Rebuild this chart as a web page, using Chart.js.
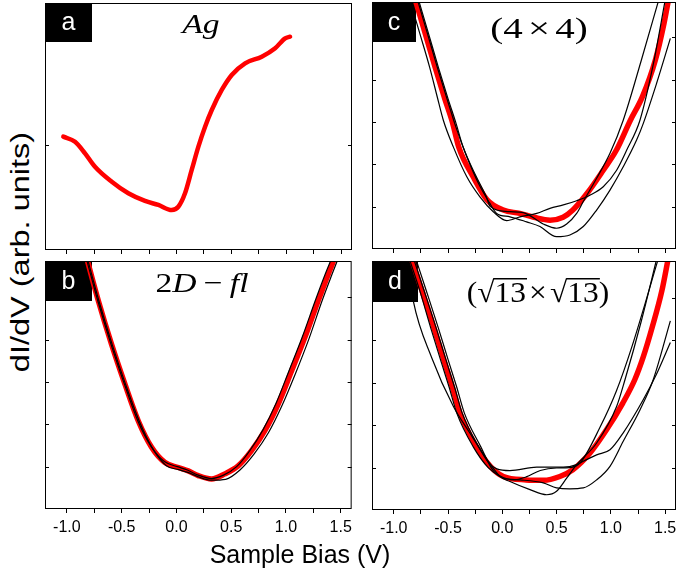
<!DOCTYPE html>
<html>
<head>
<meta charset="utf-8">
<script src="https://cdn.jsdelivr.net/npm/chart.js"></script>
<style>
  body { margin: 0; background: #fff; width: 677px; height: 578px; overflow: hidden; position: relative; font-family: "Liberation Sans", Arial, sans-serif; }
  canvas { position: absolute; }
  .pin { position: absolute; width: 0; height: 0; }
  .pin span { position: absolute; left: 0; top: 0; white-space: nowrap; font-size: 25px; line-height: 29px; color: #000; }
</style>
</head>
<body>
<canvas id="panelA" width="317" height="260" style="left:40px;top:0px"></canvas>
<canvas id="panelB" width="317" height="282" style="left:40px;top:258px"></canvas>
<canvas id="panelC" width="323" height="259" style="left:367px;top:0px"></canvas>
<canvas id="panelD" width="323" height="282" style="left:367px;top:258px"></canvas>

<div class="pin" style="left:20px;top:252px"><span style="transform: translate(-50%,-50%) rotate(-90deg) scaleX(1.3)">dI/dV (arb. units)</span></div>
<div class="pin" style="left:300px;top:554px"><span style="transform: translate(-50%,-50%)">Sample Bias (V)</span></div>

<script>
// tick values
const xTicks = [-1.0, -0.75, -0.5, -0.25, 0.0, 0.25, 0.5, 0.75, 1.0, 1.25, 1.5];
const yTicksA = [1];
const yTicks = [1, 2, 3, 4, 5];

// (a) Ag
const agCurve = [[-1.033,1.079],[-0.926,1.031],[-0.835,0.921],[-0.744,0.793],[-0.591,0.650],[-0.440,0.540],[-0.288,0.467],[-0.166,0.429],[-0.044,0.381],[0.016,0.412],[0.077,0.540],[0.138,0.762],[0.199,0.984],[0.260,1.174],[0.321,1.333],[0.412,1.524],[0.503,1.667],[0.625,1.778],[0.777,1.841],[0.899,1.921],[0.990,2.016],[1.035,2.031]];

// (b) 2D-fl
const bRed = [[-0.820,5.94],[-0.713,4.92],[-0.592,3.89],[-0.470,2.95],[-0.348,2.08],[-0.227,1.46],[-0.105,1.10],[0.017,0.98],[0.108,0.90],[0.199,0.79],[0.321,0.71],[0.442,0.83],[0.564,1.02],[0.686,1.38],[0.807,1.85],[0.929,2.48],[1.051,3.26],[1.172,4.05],[1.294,4.92],[1.385,5.54],[1.446,5.94]];
const bBlack1 = [[-0.815,5.94],[-0.708,4.92],[-0.587,3.89],[-0.465,2.95],[-0.340,2.08],[-0.215,1.42],[-0.095,1.03],[0.02,0.93],[0.11,0.86],[0.20,0.76],[0.32,0.68],[0.45,0.70],[0.58,0.92],[0.71,1.30],[0.84,1.80],[0.96,2.42],[1.09,3.22],[1.21,4.02],[1.33,4.92],[1.42,5.54],[1.48,5.94]];
const bBlack2 = [[-0.825,5.94],[-0.718,4.92],[-0.597,3.89],[-0.475,2.95],[-0.352,2.08],[-0.232,1.48],[-0.11,1.12],[0.01,1.0],[0.10,0.92],[0.20,0.80],[0.32,0.72],[0.43,0.80],[0.55,1.0],[0.67,1.38],[0.79,1.87],[0.91,2.50],[1.03,3.28],[1.15,4.07],[1.27,4.94],[1.36,5.56],[1.42,5.94]];

// (c) 4x4
const cRed = [[-0.80,5.87],[-0.71,5.09],[-0.62,4.30],[-0.53,3.55],[-0.46,3.00],[-0.40,2.40],[-0.27,1.71],[-0.14,1.16],[0.01,0.92],[0.16,0.84],[0.29,0.75],[0.44,0.68],[0.56,0.75],[0.65,0.92],[0.78,1.31],[0.93,1.86],[1.05,2.33],[1.18,3.04],[1.29,3.59],[1.41,4.46],[1.49,5.33],[1.53,5.87]];
const cBlack1 = [[-0.85,5.87],[-0.76,5.09],[-0.67,4.30],[-0.60,3.60],[-0.543,3.04],[-0.451,2.41],[-0.328,1.71],[-0.206,1.23],[-0.083,0.88],[0.040,0.67],[0.163,0.76],[0.317,0.84],[0.439,0.96],[0.562,1.04],[0.685,1.14],[0.807,1.27],[0.930,1.47],[1.053,1.86],[1.145,2.33],[1.268,3.04],[1.39,4.35],[1.50,5.87]];
const cBlack2 = [[-0.77,5.87],[-0.68,5.09],[-0.59,4.30],[-0.50,3.55],[-0.43,3.0],[-0.36,2.40],[-0.24,1.71],[-0.15,1.25],[-0.11,1.0],[0.071,0.88],[0.193,0.86],[0.377,0.59],[0.500,0.49],[0.593,0.59],[0.685,0.84],[0.746,1.12],[0.869,1.67],[0.992,2.26],[1.114,3.04],[1.28,4.45],[1.44,5.87]];
const cBlack3 = [[-0.78,5.87],[-0.69,5.09],[-0.60,4.30],[-0.51,3.55],[-0.43,2.90],[-0.33,2.20],[-0.22,1.55],[-0.12,1.10],[-0.052,0.84],[0.071,0.76],[0.224,0.64],[0.347,0.53],[0.500,0.29],[0.623,0.33],[0.746,0.53],[0.869,0.92],[0.992,1.39],[1.114,1.94],[1.237,2.57],[1.298,2.96],[1.42,3.90],[1.548,4.97]];

// (d) sqrt13 x sqrt13
const dRed = [[-0.84,5.95],[-0.74,5.17],[-0.63,4.30],[-0.54,3.55],[-0.46,2.90],[-0.39,2.29],[-0.24,1.50],[-0.11,1.03],[0.01,0.79],[0.22,0.71],[0.38,0.70],[0.53,0.79],[0.65,0.95],[0.81,1.35],[0.96,1.89],[1.11,2.52],[1.22,3.07],[1.30,3.62],[1.38,4.30],[1.47,5.17],[1.53,5.95]];
const dBlack1 = [[-0.88,5.95],[-0.82,4.93],[-0.65,3.59],[-0.45,2.44],[-0.30,1.82],[-0.14,1.19],[-0.02,0.79],[0.071,0.67],[0.255,0.48],[0.409,0.36],[0.50,0.44],[0.593,0.75],[0.685,1.07],[0.869,1.58],[1.053,2.44],[1.13,3.07],[1.28,4.45],[1.425,5.95]];
const dBlack2 = [[-0.82,5.95],[-0.72,5.17],[-0.61,4.30],[-0.52,3.55],[-0.44,2.90],[-0.37,2.29],[-0.22,1.50],[-0.12,1.10],[-0.05,0.97],[0.071,0.93],[0.317,1.01],[0.562,1.01],[0.685,1.07],[0.746,1.15],[0.869,1.30],[0.992,1.42],[1.114,1.82],[1.298,2.60],[1.42,3.20],[1.548,3.95]];
const dBlack3 = [[-0.86,5.95],[-0.76,5.17],[-0.66,4.30],[-0.57,3.55],[-0.49,2.90],[-0.42,2.29],[-0.27,1.50],[-0.13,1.00],[-0.02,0.80],[0.10,0.71],[0.22,0.78],[0.35,0.93],[0.50,0.99],[0.62,1.00],[0.72,1.12],[0.90,1.95],[1.05,2.80],[1.20,3.90],[1.44,5.95]];
const dBlack4 = [[-0.80,5.95],[-0.70,5.17],[-0.59,4.30],[-0.50,3.55],[-0.42,2.90],[-0.35,2.29],[-0.20,1.50],[-0.09,0.95],[0.0,0.76],[0.163,0.71],[0.377,0.64],[0.500,0.52],[0.623,0.50],[0.746,0.52],[0.869,0.71],[0.992,1.03],[1.114,1.62],[1.268,2.36],[1.39,3.07],[1.548,4.46]];

Chart.defaults.font.family = '"Liberation Sans", Arial, sans-serif';
Chart.defaults.color = '#000';

// frame, inside y ticks, letter box and title
const framePlugin = {
  id: 'frame',
  beforeDatasetsDraw(chart, args, o) {
    const ctx = chart.ctx, a = chart.chartArea;
    ctx.save();
    ctx.fillStyle = '#000';
    ctx.fillRect(a.left, a.top, o.boxW, o.boxH);
    ctx.fillStyle = '#fff';
    ctx.font = '25px "Liberation Sans"';
    ctx.textAlign = 'center';
    ctx.textBaseline = 'middle';
    ctx.fillText(o.letter, a.left + o.boxW / 2, a.top + o.boxH / 2 + 1);
    ctx.restore();
  },
  afterDatasetsDraw(chart, args, o) {
    const ctx = chart.ctx, a = chart.chartArea, y = chart.scales.y;
    ctx.save();
    ctx.strokeStyle = '#000';
    ctx.lineWidth = 1;
    ctx.strokeRect(a.left + 0.5, a.top + 0.5, a.width - 1, a.height - 1);
    ctx.beginPath();
    o.yTicks.forEach(v => {
      const py = Math.round(y.getPixelForValue(v)) + 0.5;
      ctx.moveTo(a.left, py); ctx.lineTo(a.left + 4, py);
      ctx.moveTo(a.right, py); ctx.lineTo(a.right - 4, py);
    });
    ctx.stroke();

    // title
    const t = o.title;
    ctx.translate(a.left + t.cx, a.top + t.base);
    ctx.scale(t.sx, 1);
    ctx.fillStyle = '#000';
    ctx.strokeStyle = '#000';
    ctx.textBaseline = 'alphabetic';
    ctx.textAlign = 'left';
    const fontOf = p => (p.it ? 'italic ' : '') + t.size + 'px "Liberation Serif"';
    let total = 0;
    t.pieces.forEach(p => { ctx.font = fontOf(p); p.w = ctx.measureText(p.t).width; total += p.w + (p.gap || 0); });
    let x = -total / 2;
    let barY = -t.size * 0.8;
    t.pieces.forEach(p => {
      ctx.font = fontOf(p);
      if (p.t === '√') barY = -ctx.measureText('√').actualBoundingBoxAscent + 0.8;
      ctx.fillText(p.t, x, 0);
      if (p.over) {
        ctx.lineWidth = 1.4;
        ctx.beginPath();
        ctx.moveTo(x - 1, barY);
        ctx.lineTo(x + p.w + 1, barY);
        ctx.stroke();
      }
      x += p.w + (p.gap || 0);
    });
    ctx.restore();
  }
};

function makePanel(id, o) {
  const sets = o.black.map(d => ({
    data: d, borderColor: '#000', borderWidth: 1.2, pointRadius: 0,
    cubicInterpolationMode: 'monotone', clip: 0
  }));
  sets.push({
    data: o.red, borderColor: '#ff0000', borderWidth: o.redWidth, pointRadius: 0,
    cubicInterpolationMode: 'monotone', borderCapStyle: 'round', clip: 0
  });
  return new Chart(document.getElementById(id), {
    type: 'line',
    data: { datasets: sets },
    options: {
      responsive: false,
      animation: false,
      events: [],
      layout: { padding: o.pad },
      plugins: {
        legend: { display: false },
        tooltip: { enabled: false },
        frame: o.frame
      },
      scales: {
        x: {
          type: 'linear', min: -1.2, max: 1.6,
          afterBuildTicks: s => { s.ticks = xTicks.map(v => ({ value: v })); },
          afterFit: s => { s.height = o.xh; },
          ticks: {
            display: o.labels, autoSkip: false, maxRotation: 0, padding: 5, color: '#000',
            font: { size: 16 },
            callback: v => Math.abs(v * 2 - Math.round(v * 2)) < 1e-6 ? v.toFixed(1) : ''
          },
          grid: { drawOnChartArea: false, drawTicks: true, tickLength: 4, color: '#000' },
          border: { display: false }
        },
        y: { type: 'linear', display: false, min: 0, max: o.ymax }
      }
    },
    plugins: [framePlugin]
  });
}

makePanel('panelA', {
  black: [], red: agCurve, redWidth: 4.5, ymax: 2.352, xh: 10, labels: false,
  pad: { left: 5, right: 5, top: 3, bottom: 0 },
  frame: { letter: 'a', boxW: 47, boxH: 39, yTicks: yTicksA,
    title: { cx: 156, base: 30, sx: 1.2, size: 28, pieces: [{ t: 'Ag', it: true }] } }
});

makePanel('panelB', {
  black: [bBlack1, bBlack2], red: bRed, redWidth: 5.5, ymax: 5.86, xh: 31, labels: true,
  pad: { left: 5, right: 5, top: 3, bottom: 0 },
  frame: { letter: 'b', boxW: 47, boxH: 40, yTicks: yTicks,
    title: { cx: 157, base: 31, sx: 1.2, size: 28, pieces: [
      { t: '2' }, { t: 'D', it: true, gap: 6 }, { t: '\u2212', gap: 6 }, { t: 'fl', it: true }
    ] } }
});

makePanel('panelC', {
  black: [cBlack1, cBlack2, cBlack3], red: cRed, redWidth: 5.5, ymax: 5.83, xh: 10, labels: false,
  pad: { left: 5, right: 14, top: 2, bottom: 0 },
  frame: { letter: 'c', boxW: 44, boxH: 40, yTicks: yTicks,
    title: { cx: 167, base: 36, sx: 1.3, size: 30, pieces: [
      { t: '(4', gap: 4 }, { t: '\u00d7', gap: 4 }, { t: '4)' }
    ] } }
});

makePanel('panelD', {
  black: [dBlack1, dBlack2, dBlack3, dBlack4], red: dRed, redWidth: 5.5, ymax: 5.87, xh: 30, labels: true,
  pad: { left: 5, right: 14, top: 3, bottom: 0 },
  frame: { letter: 'd', boxW: 46, boxH: 41, yTicks: yTicks,
    title: { cx: 166, base: 41, sx: 1.05, size: 30, pieces: [
      { t: '(' }, { t: '√' }, { t: '13', over: true, gap: 3 }, { t: '\u00d7', gap: 3 },
      { t: '√' }, { t: '13', over: true }, { t: ')' }
    ] } }
});
</script>
</body>
</html>
